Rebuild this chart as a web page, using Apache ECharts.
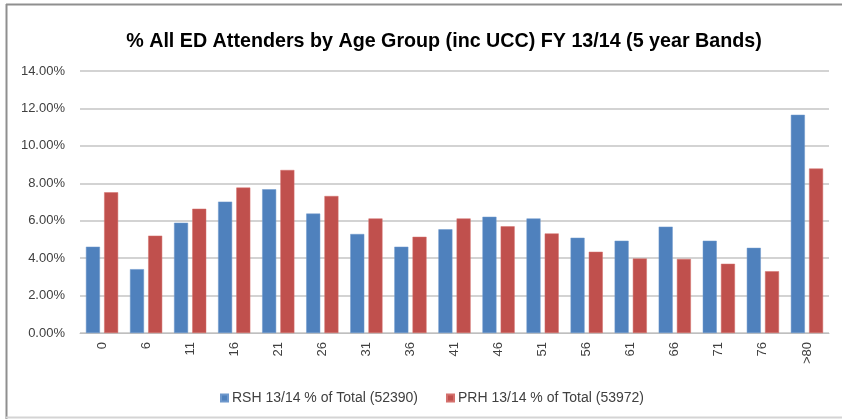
<!DOCTYPE html>
<html>
<head>
<meta charset="utf-8">
<script src="https://cdn.jsdelivr.net/npm/echarts@6/dist/echarts.min.js"></script>
<style>
    html, body { margin: 0; padding: 0; background: #fff; }
    #chart { width: 842px; height: 419px; }
</style>
</head>
<body>
<div id="chart"></div>
<script>
var ageBands = ['0', '6', '11', '16', '21', '26', '31', '36', '41', '46', '51', '56', '61', '66', '71', '76', '>80'];
var rshValues = [4.61, 3.41, 5.89, 7.02, 7.68, 6.38, 5.29, 4.61, 5.54, 6.21, 6.12, 5.09, 4.93, 5.68, 4.93, 4.55, 11.66];
var prhValues = [7.52, 5.20, 6.64, 7.77, 8.71, 7.32, 6.12, 5.14, 6.12, 5.70, 5.32, 4.34, 3.98, 3.96, 3.70, 3.30, 8.79];
var seriesNames = ['RSH 13/14 % of Total (52390)', 'PRH 13/14 % of Total (53972)'];

var font = '"Liberation Sans", sans-serif';

var myChart = echarts.init(document.getElementById('chart'));
var option = {
    backgroundColor: '#fff',
    animation: false,
    title: {
        text: '% All ED Attenders by Age Group (inc UCC) FY 13/14 (5 year Bands)',
        left: 439,
        top: 27,
        textAlign: 'center',
        textStyle: {
            color: '#000',
            fontFamily: font,
            fontSize: 19.7,
            fontWeight: 'bold'
        }
    },
    legend: {
        left: 215,
        top: 386,
        itemWidth: 7,
        itemHeight: 7,
        itemGap: 28,
        icon: 'rect',
        data: seriesNames,
        textStyle: {
            color: '#404040',
            fontFamily: font,
            fontSize: 14,
            padding: [0, 0, 0, -1]
        }
    },
    grid: {
        left: 80,
        right: 13,
        top: 71,
        bottom: 86
    },
    xAxis: {
        type: 'category',
        data: ageBands,
        axisTick: { show: false },
        axisLine: { lineStyle: { color: '#bfbfbf', width: 1 } },
        axisLabel: {
            rotate: 90,
            margin: 9,
            color: '#404040',
            fontFamily: font,
            fontSize: 13
        }
    },
    yAxis: {
        type: 'value',
        min: 0,
        max: 14,
        interval: 2,
        axisLine: { show: false },
        axisTick: { show: false },
        splitLine: { lineStyle: { color: '#c4c4c4', width: 1.5 } },
        axisLabel: {
            margin: 15,
            color: '#404040',
            fontFamily: font,
            fontSize: 13,
            formatter: function (v) {
                return v.toFixed(2) + '%';
            }
        }
    },
    series: [{
        name: seriesNames[0],
        type: 'bar',
        data: rshValues,
        barWidth: 14,
        barGap: '30%',
        itemStyle: { color: '#4f81bd', borderColor: '#6e98cc', borderWidth: 0.5 }
    }, {
        name: seriesNames[1],
        type: 'bar',
        data: prhValues,
        barWidth: 14,
        itemStyle: { color: '#c0504d', borderColor: '#d4706d', borderWidth: 0.5 }
    }],
    graphic: [{
        type: 'line',
        shape: { x1: 6, y1: 4.5, x2: 842, y2: 4.5 },
        style: { stroke: '#8f8f8f', lineWidth: 2 }
    }, {
        type: 'line',
        shape: { x1: 6.5, y1: 4, x2: 6.5, y2: 419 },
        style: { stroke: '#8f8f8f', lineWidth: 2 }
    }, {
        type: 'line',
        shape: { x1: 6, y1: 417.5, x2: 842, y2: 417.5 },
        style: { stroke: '#d4d4d4', lineWidth: 2 }
    }]
};
myChart.setOption(option);
</script>
</body>
</html>
